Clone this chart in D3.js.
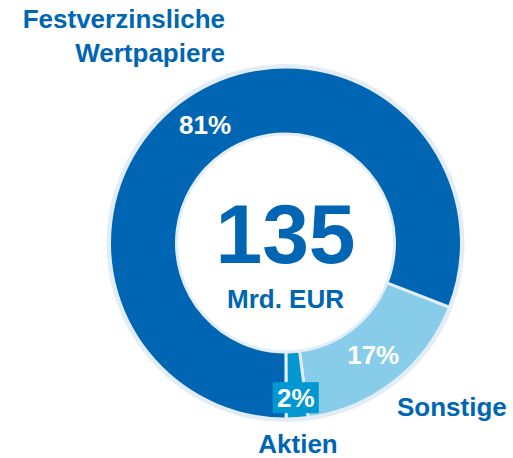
<!DOCTYPE html>
<html>
<head>
<meta charset="utf-8">
<script src="https://cdn.jsdelivr.net/npm/d3@7"></script>
<style>
  body { margin: 0; background: #fff; }
  text { font-family: "Liberation Sans", Arial, sans-serif; font-weight: bold; }
</style>
</head>
<body>
<div id="chart"></div>
<script>
// data
var categories = ["Sonstige", "Aktien", "Festverzinsliche Wertpapiere"];
var values = [17, 2, 81];
var colors = ["#87cdea", "#0098d3", "#0066b3"];
var total = "135";
var unit = "Mrd. EUR";

var w = 513, h = 458;
var cx = 285.5, cy = 243;
var rOuter = 176, rInner = 109;
var startDeg = 111.4;

var svg = d3.select("#chart").append("svg")
    .attr("width", w)
    .attr("height", h);

var g = svg.append("g")
    .attr("transform", "translate(" + cx + "," + cy + ")");

var pie = d3.pie()
    .sort(null)
    .value(function(d) { return d; })
    .startAngle(startDeg * Math.PI / 180)
    .endAngle(startDeg * Math.PI / 180 + 2 * Math.PI);

var arc = d3.arc()
    .innerRadius(rInner)
    .outerRadius(rOuter);

var arcs = pie(values);

// outer halo (ring only)
g.append("circle")
    .attr("r", rOuter + 1)
    .attr("fill", "none")
    .attr("stroke", "#e3edf7")
    .attr("stroke-width", 4);

g.selectAll("path")
    .data(arcs)
    .enter()
    .append("path")
    .attr("d", arc)
    .attr("fill", function(d, i) { return colors[i]; })
    .attr("stroke", "#e3edf7")
    .attr("stroke-width", 3);

// percent labels
var labelArc = d3.arc().innerRadius(rInner).outerRadius(rOuter);
var smallArc = d3.arc().innerRadius(145).outerRadius(165);

arcs.forEach(function(d, i) {
    var c = (values[i] < 5) ? smallArc.centroid(d) : labelArc.centroid(d);
    if (values[i] < 5) {
        g.append("rect")
            .attr("x", c[0] - 23)
            .attr("y", c[1] - 15.5)
            .attr("width", 46)
            .attr("height", 31)
            .attr("fill", colors[i]);
    }
    g.append("text")
        .attr("x", c[0])
        .attr("y", c[1] + 9)
        .attr("text-anchor", "middle")
        .attr("font-size", "26px")
        .attr("fill", "#fff")
        .text(values[i] + "%");
});

// center text
g.append("text")
    .attr("x", 0)
    .attr("y", 20)
    .attr("text-anchor", "middle")
    .attr("font-size", "84px")
    .attr("fill", "#0066b3")
    .text(total);

g.append("text")
    .attr("x", 0)
    .attr("y", 65)
    .attr("text-anchor", "middle")
    .attr("font-size", "26px")
    .attr("fill", "#0066b3")
    .text(unit);

// category labels
svg.append("text")
    .attr("x", 225)
    .attr("y", 28)
    .attr("text-anchor", "end")
    .attr("font-size", "26px")
    .attr("fill", "#0066b3")
    .text("Festverzinsliche");
svg.append("text")
    .attr("x", 225)
    .attr("y", 62)
    .attr("text-anchor", "end")
    .attr("font-size", "26px")
    .attr("fill", "#0066b3")
    .text("Wertpapiere");

svg.append("text")
    .attr("x", 397)
    .attr("y", 416)
    .attr("font-size", "26px")
    .attr("fill", "#0066b3")
    .text(categories[0]);

svg.append("text")
    .attr("x", 298)
    .attr("y", 453)
    .attr("text-anchor", "middle")
    .attr("font-size", "26px")
    .attr("fill", "#0066b3")
    .text(categories[1]);
</script>
</body>
</html>
